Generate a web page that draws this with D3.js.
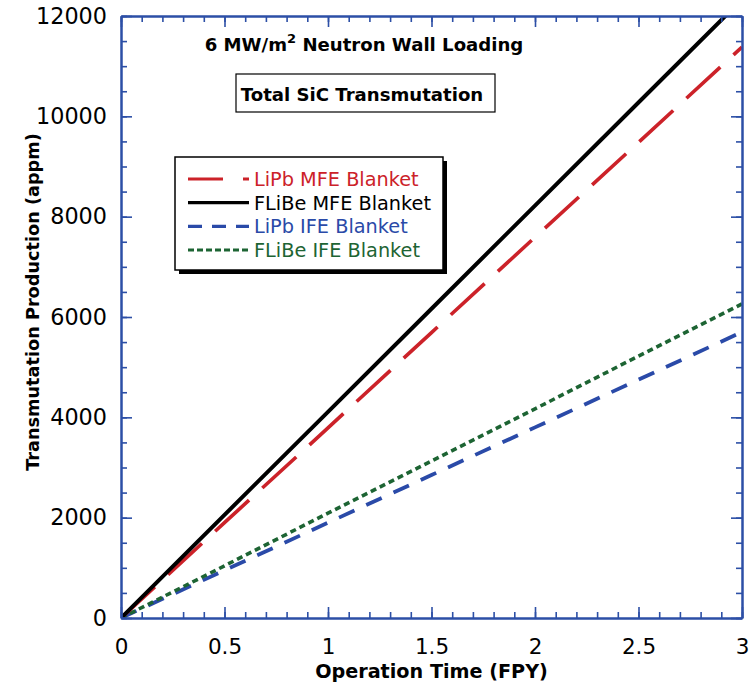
<!DOCTYPE html>
<html>
<head>
<meta charset="utf-8">
<script src="https://cdn.jsdelivr.net/npm/d3@7"></script>
<style>
  html, body { margin: 0; padding: 0; background: #fff; }
  svg { display: block; font-family: "DejaVu Sans", sans-serif; }
</style>
</head>
<body>
<svg id="chart" width="749" height="686"></svg>
<script>
// Operation time in full-power years
const timeFPY = [0, 0.5, 1, 1.5, 2, 2.5, 3];

// Total SiC transmutation production (appm)
const lipbMFE  = [0, 1900, 3790, 5690, 7590, 9480, 11380];
const flibeMFE = [0, 2055, 4110, 6165, 8220, 10275, 12330];
const lipbIFE  = [0, 950, 1900, 2850, 3800, 4750, 5700];
const flibeIFE = [0, 1040, 2090, 3130, 4170, 5220, 6260];

const seriesNames = ["LiPb MFE Blanket", "FLiBe MFE Blanket", "LiPb IFE Blanket", "FLiBe IFE Blanket"];

const xTicks = [0, 0.5, 1, 1.5, 2, 2.5, 3];
const yTicks = [0, 2000, 4000, 6000, 8000, 10000, 12000];

const axisBlue = "#2c4fa6";
const plot = { left: 121, right: 742, top: 16, bottom: 618 };

const svg = d3.select("#chart");

const x = d3.scaleLinear().domain([0, 3]).range([plot.left, plot.right]);
const y = d3.scaleLinear().domain([0, 12000]).range([plot.bottom, plot.top]);

svg.append("defs").append("clipPath").attr("id", "plot-clip")
  .append("rect")
  .attr("x", plot.left).attr("y", plot.top)
  .attr("width", plot.right - plot.left).attr("height", plot.bottom - plot.top);

// Series, drawn back to front
const series = [
  { name: seriesNames[2], values: lipbIFE,  color: "#2a4aa8", width: 3.8, dash: "17,13" },
  { name: seriesNames[3], values: flibeIFE, color: "#1d6433", width: 3.6, dash: "6,4" },
  { name: seriesNames[0], values: lipbMFE,  color: "#cc2229", width: 3.6, dash: "46,18" },
  { name: seriesNames[1], values: flibeMFE, color: "#000000", width: 4.0, dash: null }
];

const line = d3.line()
  .x((d, i) => x(timeFPY[i]))
  .y(d => y(d));

const lines = svg.append("g").attr("clip-path", "url(#plot-clip)");
series.forEach(s => {
  lines.append("path")
    .datum(s.values)
    .attr("d", line)
    .attr("fill", "none")
    .attr("stroke", s.color)
    .attr("stroke-width", s.width)
    .attr("stroke-dasharray", s.dash);
});

// Axes with inward ticks on all four sides
const xMinor = d3.range(0, 3.0001, 0.1);
const yMinor = d3.range(0, 12001, 500);

function styleAxis(g) {
  g.selectAll("path.domain").attr("stroke", axisBlue).attr("stroke-width", 2);
  g.selectAll(".tick line").attr("stroke", axisBlue).attr("stroke-width", 1.6);
}

// minor ticks
svg.append("g").attr("transform", `translate(0,${plot.bottom})`)
  .call(d3.axisBottom(x).tickValues(xMinor).tickSize(-6).tickSizeOuter(0).tickFormat(""))
  .call(styleAxis);
svg.append("g").attr("transform", `translate(0,${plot.top})`)
  .call(d3.axisTop(x).tickValues(xMinor).tickSize(-6).tickSizeOuter(0).tickFormat(""))
  .call(styleAxis);
svg.append("g").attr("transform", `translate(${plot.left},0)`)
  .call(d3.axisLeft(y).tickValues(yMinor).tickSize(-6).tickSizeOuter(0).tickFormat(""))
  .call(styleAxis);
svg.append("g").attr("transform", `translate(${plot.right},0)`)
  .call(d3.axisRight(y).tickValues(yMinor).tickSize(-6).tickSizeOuter(0).tickFormat(""))
  .call(styleAxis);

// major ticks
const xAxis = svg.append("g").attr("transform", `translate(0,${plot.bottom})`)
  .call(d3.axisBottom(x).tickValues(xTicks).tickSize(-11).tickSizeOuter(0).tickPadding(21).tickFormat(d3.format("")))
  .call(styleAxis);
xAxis.selectAll("text").attr("fill", "#000").attr("font-size", 21.5)
  .attr("font-family", "DejaVu Sans, sans-serif");

const yAxis = svg.append("g").attr("transform", `translate(${plot.left},0)`)
  .call(d3.axisLeft(y).tickValues(yTicks).tickSize(-11).tickSizeOuter(0).tickPadding(14).tickFormat(d3.format("")))
  .call(styleAxis);
yAxis.selectAll("text").attr("fill", "#000").attr("font-size", 22.3)
  .attr("font-family", "DejaVu Sans, sans-serif");

svg.append("g").attr("transform", `translate(0,${plot.top})`)
  .call(d3.axisTop(x).tickValues(xTicks).tickSize(-11).tickSizeOuter(0).tickFormat(""))
  .call(styleAxis);
svg.append("g").attr("transform", `translate(${plot.right},0)`)
  .call(d3.axisRight(y).tickValues(yTicks).tickSize(-11).tickSizeOuter(0).tickFormat(""))
  .call(styleAxis);

// Axis titles
svg.append("text")
  .attr("x", (plot.left + plot.right) / 2).attr("y", 678)
  .attr("text-anchor", "middle")
  .attr("font-size", 19.2).attr("font-weight", "bold")
  .text("Operation Time (FPY)");

svg.append("text")
  .attr("transform", "translate(39,302) rotate(-90)")
  .attr("text-anchor", "middle")
  .attr("font-size", 17.7).attr("font-weight", "bold")
  .text("Transmutation Production (appm)");

// Headline
const head = svg.append("text")
  .attr("x", 364).attr("y", 51)
  .attr("text-anchor", "middle")
  .attr("font-size", 18.1).attr("font-weight", "bold");
head.append("tspan").text("6 MW/m");
head.append("tspan").attr("dy", -8).attr("font-size", 13).text("2");
head.append("tspan").attr("dy", 8).text(" Neutron Wall Loading");

// Boxed subtitle
svg.append("rect")
  .attr("x", 236).attr("y", 74).attr("width", 259).attr("height", 38)
  .attr("fill", "#fff").attr("stroke", "#000").attr("stroke-width", 1.2);
svg.append("text")
  .attr("x", 362).attr("y", 100.5)
  .attr("text-anchor", "middle")
  .attr("font-size", 18.1).attr("font-weight", "bold")
  .text("Total SiC Transmutation");

// Legend with drop shadow
const legend = { x: 175, y: 157, w: 268, h: 113 };
svg.append("rect")
  .attr("x", legend.x + 4).attr("y", legend.y + 4)
  .attr("width", legend.w).attr("height", legend.h)
  .attr("fill", "#000");
svg.append("rect")
  .attr("x", legend.x).attr("y", legend.y)
  .attr("width", legend.w).attr("height", legend.h)
  .attr("fill", "#fff").attr("stroke", "#000").attr("stroke-width", 1.5);

const legendDash = {
  "LiPb MFE Blanket": "35,20",
  "FLiBe MFE Blanket": null,
  "LiPb IFE Blanket": "14,10",
  "FLiBe IFE Blanket": "6,3"
};
const rowY = d3.scalePoint().domain(seriesNames).range([179, 250]);
seriesNames.forEach(name => {
  const s = series.find(d => d.name === name);
  const yy = rowY(name);
  svg.append("line")
    .attr("x1", 188).attr("x2", 249).attr("y1", yy).attr("y2", yy)
    .attr("stroke", s.color).attr("stroke-width", 3.2)
    .attr("stroke-dasharray", legendDash[name]);
  svg.append("text")
    .attr("x", 254).attr("y", yy + 7)
    .attr("font-size", 19.3)
    .attr("fill", s.color)
    .text(name);
});
</script>
</body>
</html>
